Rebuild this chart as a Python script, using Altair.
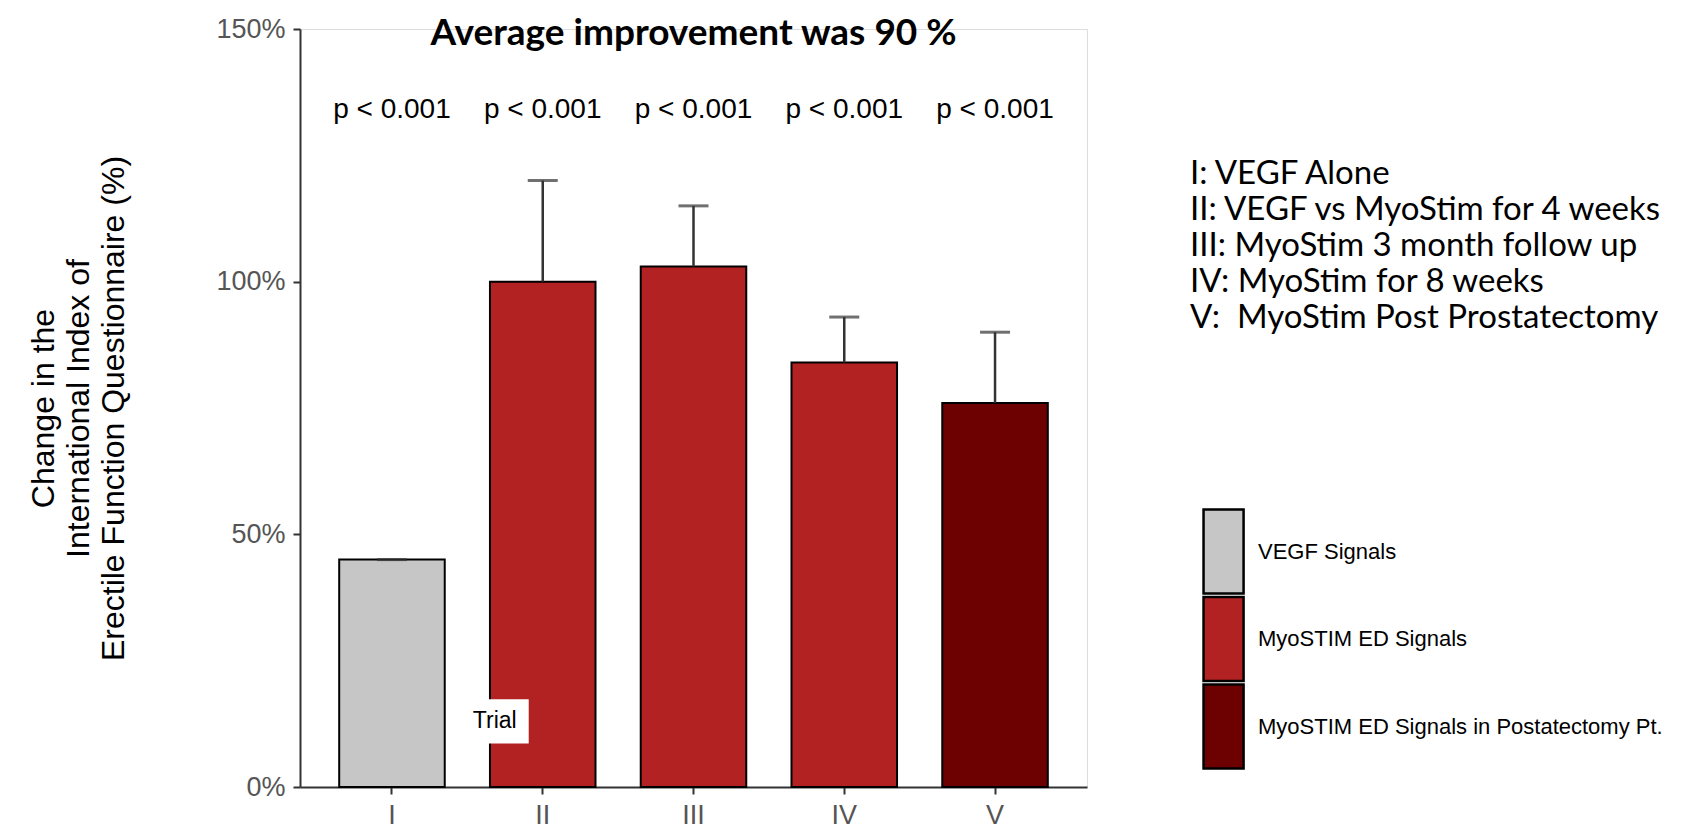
import altair as alt
import pandas as pd

# ---- data ----
groups = ["I", "II", "III", "IV", "V"]
means = [45, 100, 103, 84, 76]
upper = [45, 120, 115, 93, 90]
signal = [
    "VEGF Signals",
    "MyoSTIM ED Signals",
    "MyoSTIM ED Signals",
    "MyoSTIM ED Signals",
    "MyoSTIM ED Signals in Postatectomy Pt.",
]
pvals = ["p < 0.001"] * 5
signal_types = [
    "VEGF Signals",
    "MyoSTIM ED Signals",
    "MyoSTIM ED Signals in Postatectomy Pt.",
]
signal_colors = ["#c6c6c6", "#b22222", "#6d0000"]
y_ticks = [0, 50, 100, 150]
descr_lines = [
    "I: VEGF Alone",
    "II: VEGF vs MyoStim for 4 weeks",
    "III: MyoStim 3 month follow up",
    "IV: MyoStim for 8 weeks",
    "V:\u00a0 MyoStim Post Prostatectomy",
]
y_title = [
    "Change in the",
    "International Index of",
    "Erectile Function Questionnaire (%)",
]
headline = "Average improvement was 90 %"
headline_group = "III"
headline_y = 149
pval_y = 134
trial_text = "Trial"
trial_group = "I"
trial_y = 13

df = pd.DataFrame(
    {"group": groups, "mean": means, "upper": upper, "signal": signal, "p": pvals}
)
head_df = pd.DataFrame({"group": [headline_group], "t": [headline]})
trial_df = pd.DataFrame({"group": [trial_group], "t": [trial_text]})

x_scale = alt.Scale(domain=groups, paddingInner=0.3, paddingOuter=0.26)
x = alt.X(
    "group:N",
    sort=groups,
    scale=x_scale,
    axis=alt.Axis(
        title=None,
        labelAngle=0,
        labelFont="Liberation Sans",
        labelFontSize=27,
        labelColor="#555555",
        labelPadding=8,
        domainColor="#333333",
        domainWidth=2,
        tickColor="#333333",
        tickWidth=2,
        tickSize=7,
    ),
)
x_trial = alt.X("group:N", sort=groups, scale=x_scale, bandPosition=1)

y_scale = alt.Scale(domain=[0, 150], nice=False)

bars = (
    alt.Chart(df)
    .mark_bar(stroke="black", strokeWidth=2)
    .encode(
        x=x,
        y=alt.Y(
            "mean:Q",
            scale=y_scale,
            axis=alt.Axis(
                values=y_ticks,
                labelExpr="datum.value + '%'",
                title=y_title,
                titleFont="Liberation Sans",
                titleFontSize=32,
                titleFontWeight="normal",
                titleColor="black",
                titleLineHeight=35,
                titlePadding=85,
                grid=False,
                domainColor="#333333",
                domainWidth=2,
                tickColor="#333333",
                tickWidth=2,
                tickSize=7,
                labelColor="#555555",
                labelFont="Liberation Sans",
                labelFontSize=27,
                labelPadding=8,
            ),
        ),
        color=alt.Color(
            "signal:N",
            scale=alt.Scale(domain=signal_types, range=signal_colors),
            legend=alt.Legend(
                title=descr_lines,
                titleFont="Lato",
                titleFontSize=33,
                titleFontWeight="normal",
                titleColor="black",
                titleLineHeight=36,
                titleLimit=700,
                titlePadding=187,
                titleAnchor="start",
                orient="none",
                legendX=890,
                legendY=129,
                padding=0,
                symbolType="M-0.57,-1.5L0.86,-1.5L0.86,1.5L-0.57,1.5Z",
                symbolSize=3136,
                symbolStrokeColor="black",
                symbolStrokeWidth=2.5,
                symbolOpacity=1,
                rowPadding=-7.5,
                labelFont="Liberation Sans",
                labelFontSize=22,
                labelColor="black",
                labelLimit=700,
                labelOffset=9,
            ),
        ),
    )
)

err = (
    alt.Chart(df)
    .mark_rule(color="#333333", strokeWidth=2.5)
    .encode(x=x, y=alt.Y("mean:Q", scale=y_scale), y2="upper:Q")
)
caps = (
    alt.Chart(df)
    .mark_tick(color="#333333", thickness=3, size=30, orient="horizontal")
    .encode(x=x, y=alt.Y("upper:Q", scale=y_scale))
)
ptext = (
    alt.Chart(df)
    .mark_text(font="Liberation Sans", fontSize=28, color="black", baseline="middle")
    .encode(x=x, y=alt.datum(pval_y), text="p:N")
)
head = (
    alt.Chart(head_df)
    .mark_text(font="Lato", fontSize=37, fontWeight="bold", color="black", baseline="middle")
    .encode(x=x, y=alt.datum(headline_y), text="t:N")
)
trial_box = (
    alt.Chart(trial_df)
    .mark_point(
        shape="M0.47,-0.65L2.47,-0.65L2.47,0.65L0.47,0.65Z",
        size=4624,
        filled=True,
        fill="white",
        opacity=1,
        strokeWidth=0,
    )
    .encode(x=x_trial, y=alt.datum(trial_y))
)
trial_lbl = (
    alt.Chart(trial_df)
    .mark_text(font="Liberation Sans", fontSize=23, color="black", baseline="middle", dx=50)
    .encode(x=x_trial, y=alt.datum(trial_y), text="t:N")
)

chart = (
    alt.layer(bars, err, caps, ptext, head, trial_box, trial_lbl)
    .properties(width=787, height=758, padding={"left": 19, "top": 7, "right": 2, "bottom": 0})
    .configure_view(stroke=None)
    .configure(background="white")
)

chart.save("out.html", embed_options={"renderer": "svg", "actions": False})
